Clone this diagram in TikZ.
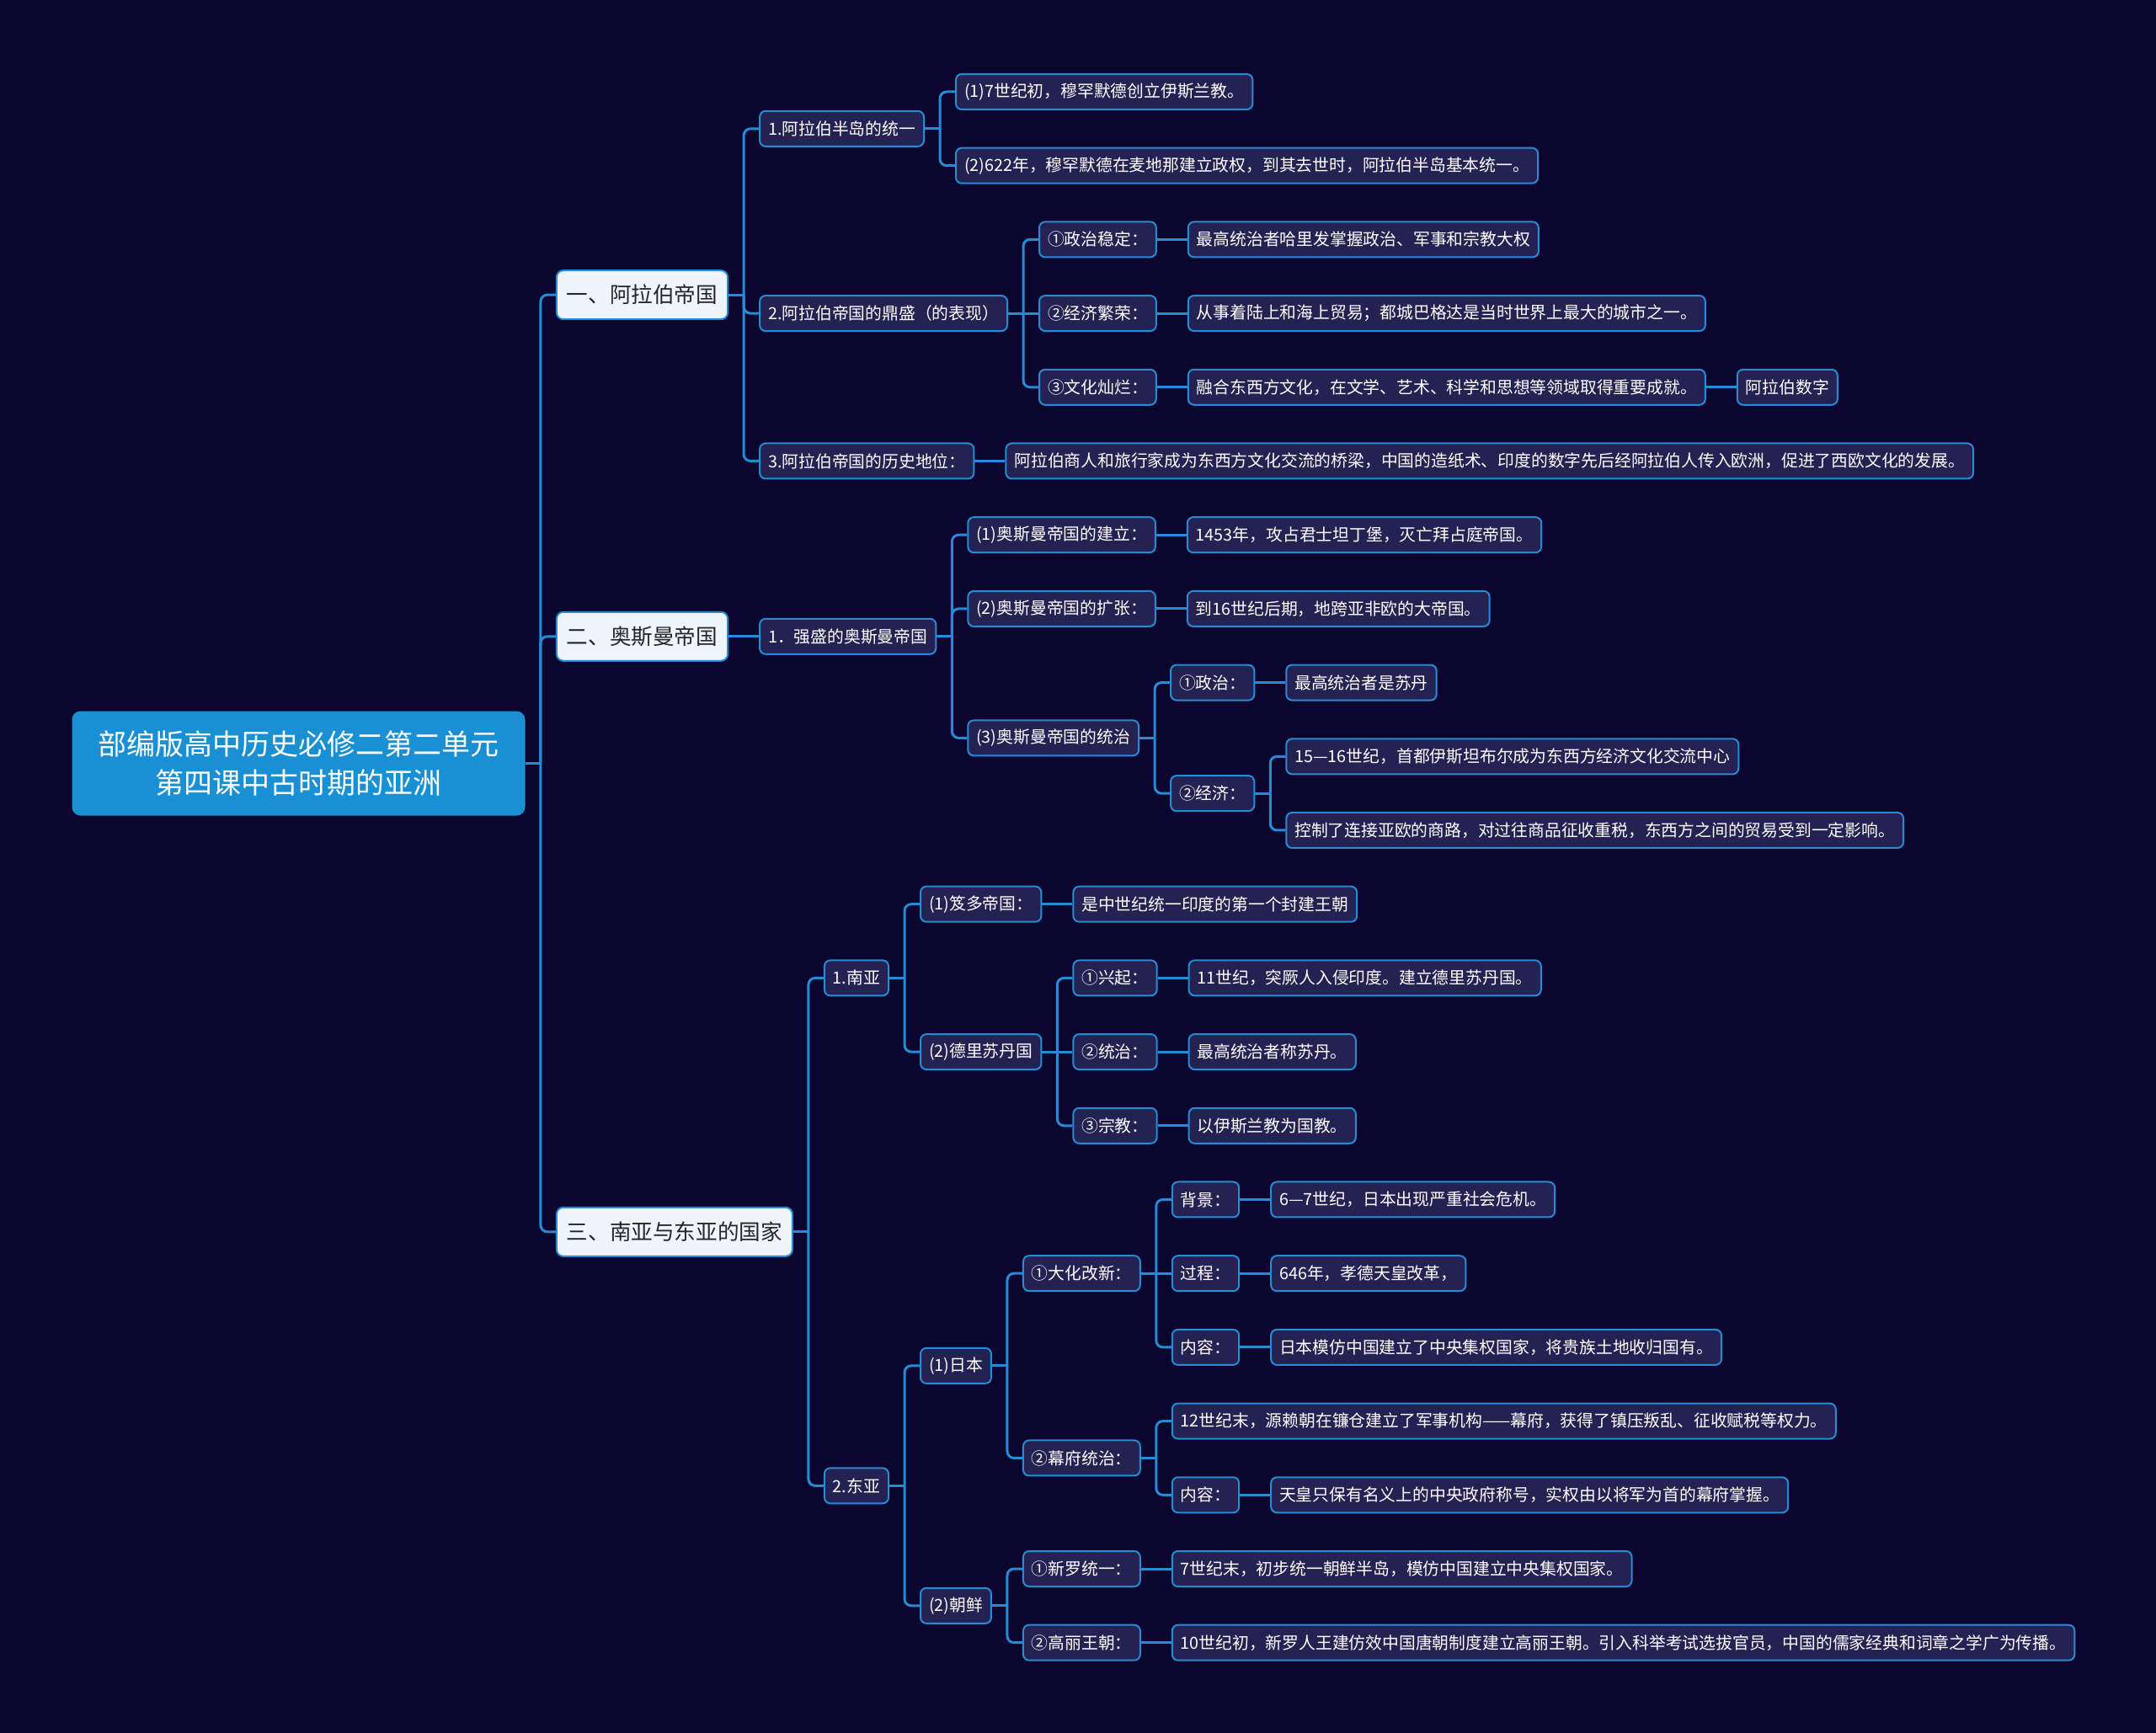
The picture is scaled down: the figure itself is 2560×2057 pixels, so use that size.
\documentclass[tikz,border=0pt]{standalone}
\usepackage{fontspec}
\setmainfont{Noto Sans CJK SC}
\usetikzlibrary{positioning}
\definecolor{bgnavy}{RGB}{10,6,46}
\definecolor{rootblue}{RGB}{26,144,212}
\definecolor{lineblue}{RGB}{38,139,214}
\definecolor{itemfill}{RGB}{36,34,82}
\definecolor{topicfill}{RGB}{238,245,253}
\newdimen\kya
\newdimen\kyb
\newcommand{\zweig}[2]{%
  \draw[link] (#1.east) -- ++(9pt,0) coordinate (#1-k);
  \foreach \kind in {#2}{%
    \pgfextracty{\kya}{\pgfpointanchor{#1-k}{center}}%
    \pgfextracty{\kyb}{\pgfpointanchor{\kind}{west}}%
    \ifdim\dimexpr\kya-\kyb\relax<0.5pt\ifdim\dimexpr\kyb-\kya\relax<0.5pt
      \draw[link] (#1-k) -- (\kind.west);
    \else\draw[link] (#1-k) |- (\kind.west);\fi
    \else\draw[link] (#1-k) |- (\kind.west);\fi}}

\begin{document}
\begin{tikzpicture}[x=0.5pt, y=-0.5pt,
    root/.style={fill=rootblue, rounded corners=5pt, text=white, align=center,
      font=\fontsize{17}{23}\selectfont, minimum width=269pt, minimum height=62pt},
    thema/.style={draw=lineblue, line width=1pt, fill=topicfill, rounded corners=4pt,
      text=black!85, font=\fontsize{12.8}{15}\selectfont, inner xsep=6pt, minimum height=29pt},
    punkt/.style={draw=lineblue, line width=1pt, fill=itemfill, rounded corners=3.5pt,
      text=white, font=\fontsize{9.9}{12}\selectfont, inner xsep=5pt, minimum height=21pt},
    link/.style={draw=lineblue, line width=1.5pt, rounded corners=4pt},
    zeile/.style={yshift={(#1)*(-43.85pt)}}]
  % Hintergrund
  \useasboundingbox (0,0) rectangle (2560,2057);
  \fill[bgnavy] (-4,-4) rectangle (2564,2061);
  % Wurzel
  \node[root] (wurzel) at (354.5,906.5) {部编版高中历史必修二第二单元\\第四课中古时期的亚洲};
  % Hauptthemen
  \node[thema, right=18pt of wurzel, zeile=-6.34375] (arab) {一、阿拉伯帝国};
  \node[thema, right=18pt of wurzel, zeile=-1.71875] (osm) {二、奥斯曼帝国};
  \node[thema, right=18pt of wurzel, zeile=6.34375] (asien) {三、南亚与东亚的国家};
  % Arabisches Reich
  \node[punkt, right=18pt of arab, zeile=-2.25] (arab1) {1.阿拉伯半岛的统一};
  \node[punkt, right=18pt of arab1, zeile=-0.5] (arab1a) {(1)7世纪初，穆罕默德创立伊斯兰教。};
  \node[punkt, right=18pt of arab1, zeile=0.5] (arab1b) {(2)622年，穆罕默德在麦地那建立政权，到其去世时，阿拉伯半岛基本统一。};
  \node[punkt, right=18pt of arab, zeile=0.25] (arab2) {2.阿拉伯帝国的鼎盛（的表现）};
  \node[punkt, right=18pt of arab2, zeile=-1] (arab2a) {①政治稳定：};
  \node[punkt, right=18pt of arab2a] (arab2ax) {最高统治者哈里发掌握政治、军事和宗教大权};
  \node[punkt, right=18pt of arab2] (arab2b) {②经济繁荣：};
  \node[punkt, right=18pt of arab2b] (arab2bx) {从事着陆上和海上贸易；都城巴格达是当时世界上最大的城市之一。};
  \node[punkt, right=18pt of arab2, zeile=1] (arab2c) {③文化灿烂：};
  \node[punkt, right=18pt of arab2c] (arab2cx) {融合东西方文化，在文学、艺术、科学和思想等领域取得重要成就。};
  \node[punkt, right=18pt of arab2cx] (arab2cy) {阿拉伯数字};
  \node[punkt, right=18pt of arab, zeile=2.25] (arab3) {3.阿拉伯帝国的历史地位：};
  \node[punkt, right=18pt of arab3] (arab3x) {阿拉伯商人和旅行家成为东西方文化交流的桥梁，中国的造纸术、印度的数字先后经阿拉伯人传入欧洲，促进了西欧文化的发展。};
  % Osmanisches Reich
  \node[punkt, right=18pt of osm] (osm1) {1．强盛的奥斯曼帝国};
  \node[punkt, right=18pt of osm1, zeile=-1.375] (osm1a) {(1)奥斯曼帝国的建立：};
  \node[punkt, right=18pt of osm1a] (osm1ax) {1453年，攻占君士坦丁堡，灭亡拜占庭帝国。};
  \node[punkt, right=18pt of osm1, zeile=-0.375] (osm1b) {(2)奥斯曼帝国的扩张：};
  \node[punkt, right=18pt of osm1b] (osm1bx) {到16世纪后期，地跨亚非欧的大帝国。};
  \node[punkt, right=18pt of osm1, zeile=1.375] (osm1c) {(3)奥斯曼帝国的统治};
  \node[punkt, right=18pt of osm1c, zeile=-0.75] (osm1c1) {①政治：};
  \node[punkt, right=18pt of osm1c1] (osm1c1x) {最高统治者是苏丹};
  \node[punkt, right=18pt of osm1c, zeile=0.75] (osm1c2) {②经济：};
  \node[punkt, right=18pt of osm1c2, zeile=-0.5] (osm1c2a) {15—16世纪，首都伊斯坦布尔成为东西方经济文化交流中心};
  \node[punkt, right=18pt of osm1c2, zeile=0.5] (osm1c2b) {控制了连接亚欧的商路，对过往商品征收重税，东西方之间的贸易受到一定影响。};
  % Suedasien
  \node[punkt, right=18pt of asien, zeile=-3.4375] (sued) {1.南亚};
  \node[punkt, right=18pt of sued, zeile=-1] (sued1) {(1)笈多帝国：};
  \node[punkt, right=18pt of sued1] (sued1x) {是中世纪统一印度的第一个封建王朝};
  \node[punkt, right=18pt of sued, zeile=1] (sued2) {(2)德里苏丹国};
  \node[punkt, right=18pt of sued2, zeile=-1] (sued2a) {①兴起：};
  \node[punkt, right=18pt of sued2a] (sued2ax) {11世纪，突厥人入侵印度。建立德里苏丹国。};
  \node[punkt, right=18pt of sued2] (sued2b) {②统治：};
  \node[punkt, right=18pt of sued2b] (sued2bx) {最高统治者称苏丹。};
  \node[punkt, right=18pt of sued2, zeile=1] (sued2c) {③宗教：};
  \node[punkt, right=18pt of sued2c] (sued2cx) {以伊斯兰教为国教。};
  % Ostasien
  \node[punkt, right=18pt of asien, zeile=3.4375] (ost) {2.东亚};
  \node[punkt, right=18pt of ost, zeile=-1.625] (japan) {(1)日本};
  \node[punkt, right=18pt of japan, zeile=-1.25] (japan1) {①大化改新：};
  \node[punkt, right=18pt of japan1, zeile=-1] (japan1a) {背景：};
  \node[punkt, right=18pt of japan1a] (japan1ax) {6—7世纪，日本出现严重社会危机。};
  \node[punkt, right=18pt of japan1] (japan1b) {过程：};
  \node[punkt, right=18pt of japan1b] (japan1bx) {646年，孝德天皇改革，};
  \node[punkt, right=18pt of japan1, zeile=1] (japan1c) {内容：};
  \node[punkt, right=18pt of japan1c] (japan1cx) {日本模仿中国建立了中央集权国家，将贵族土地收归国有。};
  \node[punkt, right=18pt of japan, zeile=1.25] (japan2) {②幕府统治：};
  \node[punkt, right=18pt of japan2, zeile=-0.5] (japan2a) {12世纪末，源赖朝在镰仓建立了军事机构——幕府，获得了镇压叛乱、征收赋税等权力。};
  \node[punkt, right=18pt of japan2, zeile=0.5] (japan2b) {内容：};
  \node[punkt, right=18pt of japan2b] (japan2bx) {天皇只保有名义上的中央政府称号，实权由以将军为首的幕府掌握。};
  \node[punkt, right=18pt of ost, zeile=1.625] (korea) {(2)朝鲜};
  \node[punkt, right=18pt of korea, zeile=-0.5] (korea1) {①新罗统一：};
  \node[punkt, right=18pt of korea1] (korea1x) {7世纪末，初步统一朝鲜半岛，模仿中国建立中央集权国家。};
  \node[punkt, right=18pt of korea, zeile=0.5] (korea2) {②高丽王朝：};
  \node[punkt, right=18pt of korea2] (korea2x) {10世纪初，新罗人王建仿效中国唐朝制度建立高丽王朝。引入科举考试选拔官员，中国的儒家经典和词章之学广为传播。};
  % Verbindungen
  \zweig{wurzel}{arab,osm,asien}
  \zweig{arab}{arab1,arab2,arab3}
  \zweig{arab1}{arab1a,arab1b}
  \zweig{arab2}{arab2a,arab2b,arab2c}
  \zweig{arab2a}{arab2ax}
  \zweig{arab2b}{arab2bx}
  \zweig{arab2c}{arab2cx}
  \zweig{arab2cx}{arab2cy}
  \zweig{arab3}{arab3x}
  \zweig{osm}{osm1}
  \zweig{osm1}{osm1a,osm1b,osm1c}
  \zweig{osm1a}{osm1ax}
  \zweig{osm1b}{osm1bx}
  \zweig{osm1c}{osm1c1,osm1c2}
  \zweig{osm1c1}{osm1c1x}
  \zweig{osm1c2}{osm1c2a,osm1c2b}
  \zweig{asien}{sued,ost}
  \zweig{sued}{sued1,sued2}
  \zweig{sued1}{sued1x}
  \zweig{sued2}{sued2a,sued2b,sued2c}
  \zweig{sued2a}{sued2ax}
  \zweig{sued2b}{sued2bx}
  \zweig{sued2c}{sued2cx}
  \zweig{ost}{japan,korea}
  \zweig{japan}{japan1,japan2}
  \zweig{japan1}{japan1a,japan1b,japan1c}
  \zweig{japan1a}{japan1ax}
  \zweig{japan1b}{japan1bx}
  \zweig{japan1c}{japan1cx}
  \zweig{japan2}{japan2a,japan2b}
  \zweig{japan2b}{japan2bx}
  \zweig{korea}{korea1,korea2}
  \zweig{korea1}{korea1x}
  \zweig{korea2}{korea2x}
\end{tikzpicture}
\end{document}
